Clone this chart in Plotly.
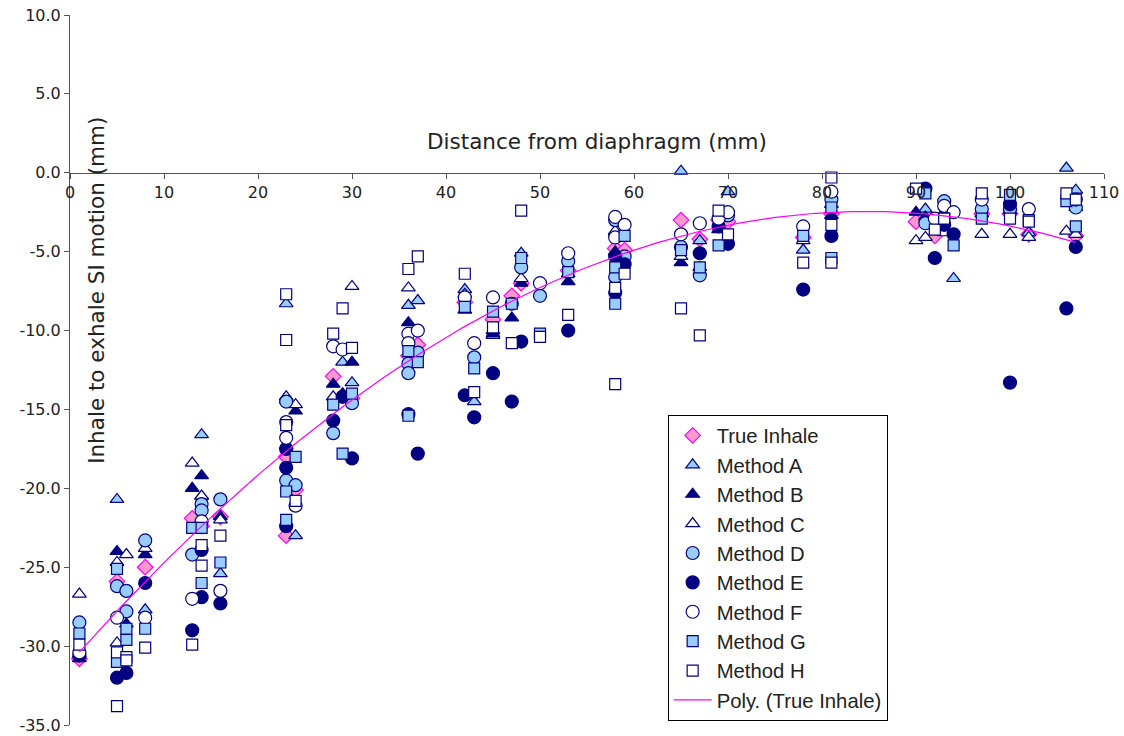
import numpy as np
import plotly.graph_objects as go

# ---- data ----
true_x = [1, 5, 8, 13, 14, 16, 23, 23, 24, 28, 30, 36, 37, 42, 45, 47, 48, 53, 58, 59, 65, 67, 69, 70, 78, 81, 90, 92, 97, 100, 102, 107]
true_y = [-30.8, -25.9, -25.0, -21.9, -22.4, -21.8, -18.0, -23.0, -20.1, -12.9, -14.3, -11.6, -10.9, -8.2, -9.3, -7.8, -7.0, -6.2, -4.8, -4.9, -3.0, -4.2, -3.0, -3.1, -4.1, -2.6, -3.1, -4.0, -2.6, -2.6, -3.9, -4.0]

a_x = [1, 5, 8, 14, 16, 23, 23, 24, 29, 30, 36, 37, 42, 43, 45, 48, 53, 58, 65, 67, 70, 78, 81, 91, 94, 97, 100, 102, 106, 107]
a_y = [-30.5, -20.7, -27.7, -16.6, -25.4, -8.3, -14.4, -23.0, -12.0, -13.3, -8.4, -8.1, -7.4, -14.5, -10.3, -5.1, -6.4, -3.8, 0.1, -4.3, -1.2, -4.9, -2.0, -2.3, -6.7, -2.6, -2.2, -3.8, 0.3, -1.1]

b_x = [1, 5, 6, 8, 13, 14, 14, 16, 23, 24, 28, 29, 30, 36, 42, 45, 47, 48, 53, 58, 65, 69, 81, 90, 91, 93, 100, 107]
b_y = [-30.8, -24.0, -28.6, -24.2, -20.0, -19.2, -20.5, -21.8, -17.3, -15.1, -13.4, -14.0, -12.0, -9.5, -8.7, -10.2, -9.2, -7.0, -6.9, -5.0, -5.7, -3.6, -2.7, -2.5, -2.8, -2.5, -2.4, -2.2]

c_x = [1, 5, 5, 6, 8, 13, 14, 16, 23, 24, 28, 30, 36, 42, 45, 48, 58, 65, 67, 78, 90, 91, 93, 97, 100, 102, 106, 107]
c_y = [-26.7, -24.7, -29.8, -24.2, -23.8, -18.4, -20.5, -22.0, -14.2, -14.7, -14.2, -7.2, -7.3, -7.7, -10.0, -6.7, -3.7, -5.3, -6.0, -4.3, -4.3, -4.1, -3.8, -3.9, -3.9, -4.1, -3.7, -3.9]

d_x = [1, 5, 6, 6, 8, 13, 14, 14, 16, 23, 23, 24, 28, 30, 36, 36, 37, 43, 47, 48, 50, 53, 58, 58, 59, 65, 67, 70, 81, 91, 93, 97, 100, 107]
d_y = [-28.5, -26.2, -26.5, -27.8, -23.3, -24.2, -21.0, -21.4, -20.7, -14.5, -19.5, -19.8, -16.5, -14.6, -12.1, -12.7, -11.4, -11.7, -8.3, -6.0, -7.8, -5.6, -3.0, -6.6, -5.3, -4.7, -6.5, -2.7, -1.7, -3.2, -1.8, -2.3, -2.3, -2.2]

e_x = [1, 5, 6, 8, 13, 14, 14, 16, 23, 23, 23, 28, 29, 30, 36, 37, 42, 43, 45, 47, 48, 53, 58, 58, 59, 67, 69, 70, 78, 81, 91, 92, 93, 94, 100, 100, 106, 107]
e_y = [-30.6, -32.0, -31.7, -26.0, -29.0, -23.9, -26.9, -27.3, -17.5, -18.7, -22.4, -15.7, -14.2, -18.1, -15.3, -17.8, -14.1, -15.5, -12.7, -14.5, -10.7, -10.0, -5.3, -7.6, -5.8, -5.1, -3.4, -4.5, -7.4, -4.0, -1.0, -5.4, -3.3, -3.9, -2.0, -13.3, -8.6, -4.7]

f_x = [1, 5, 8, 13, 14, 16, 23, 23, 24, 28, 29, 36, 36, 37, 42, 43, 45, 50, 53, 58, 58, 59, 65, 67, 69, 70, 78, 81, 92, 93, 94, 97, 102, 107]
f_y = [-30.4, -28.2, -28.2, -27.0, -22.1, -26.5, -15.8, -16.8, -21.1, -11.0, -11.2, -10.2, -10.8, -10.0, -7.9, -10.8, -7.9, -7.0, -5.1, -2.8, -4.1, -3.3, -3.9, -3.2, -2.9, -2.5, -3.4, -1.2, -2.9, -2.1, -2.5, -1.7, -2.3, -1.7]

g_x = [1, 5, 5, 6, 6, 8, 13, 14, 14, 16, 23, 23, 24, 28, 29, 30, 36, 36, 37, 42, 43, 45, 47, 48, 50, 53, 58, 58, 59, 65, 67, 69, 78, 81, 81, 91, 93, 94, 97, 100, 102, 106, 107]
g_y = [-29.2, -25.1, -31.0, -28.9, -29.6, -28.9, -22.5, -22.5, -26.0, -24.7, -20.2, -22.0, -18.0, -14.7, -17.8, -14.0, -11.3, -15.4, -12.0, -8.5, -12.4, -8.8, -8.3, -5.4, -10.2, -6.3, -6.0, -8.3, -4.0, -4.9, -6.0, -4.6, -4.0, -2.2, -5.4, -1.3, -2.9, -4.6, -2.9, -1.4, -3.0, -1.8, -3.4]

h_x = [1, 5, 5, 6, 6, 8, 13, 14, 14, 16, 23, 23, 23, 24, 28, 29, 30, 36, 37, 42, 43, 45, 47, 48, 50, 53, 58, 58, 59, 65, 67, 69, 70, 78, 81, 81, 81, 90, 92, 93, 97, 100, 102, 106, 107]
h_y = [-29.9, -30.4, -33.8, -30.7, -30.9, -30.1, -29.9, -23.6, -24.9, -23.0, -7.7, -10.6, -16.0, -20.8, -10.2, -8.6, -11.1, -6.1, -5.3, -6.4, -13.9, -9.8, -10.8, -2.4, -10.4, -9.0, -7.3, -13.4, -6.4, -8.6, -10.3, -2.4, -3.9, -5.7, -0.3, -3.3, -5.7, -1.0, -3.6, -2.9, -1.3, -2.9, -3.1, -1.3, -1.7]

x_ticks = [0, 10, 20, 30, 40, 50, 60, 70, 80, 90, 100, 110]
y_ticks = [10, 5, 0, -5, -10, -15, -20, -25, -30, -35]

NAVY = "#000080"
LIGHT = "#99CCFF"
WHITE = "#FFFFFF"

fig = go.Figure()

def add(name, xs, ys, symbol, fill, size, line_color=NAVY):
    fig.add_trace(go.Scatter(
        x=xs, y=ys, mode="markers", name=name,
        marker=dict(symbol=symbol, color=fill, size=size,
                    line=dict(color=line_color, width=1.2)),
    ))

add("True Inhale", true_x, true_y, "diamond", "#FF99CC", 12, "#FF00FF")
add("Method A", a_x, a_y, "triangle-up", LIGHT, 12)
add("Method B", b_x, b_y, "triangle-up", NAVY, 12)
add("Method C", c_x, c_y, "triangle-up", WHITE, 12)
add("Method D", d_x, d_y, "circle", LIGHT, 13)
add("Method E", e_x, e_y, "circle", NAVY, 13)
add("Method F", f_x, f_y, "circle", WHITE, 13)
add("Method G", g_x, g_y, "square", LIGHT, 11)
add("Method H", h_x, h_y, "square", WHITE, 11)

# polynomial (order 2) trendline of True Inhale
coef = np.polyfit(true_x, true_y, 2)
tx = np.linspace(min(true_x), max(true_x), 200)
fig.add_trace(go.Scatter(
    x=tx, y=np.polyval(coef, tx), mode="lines", name="Poly. (True Inhale)",
    line=dict(color="#FF00FF", width=1.2),
))

y_pos = (0 - (-35)) / 45.0

fig.update_layout(
    width=1124, height=736,
    margin=dict(l=70, r=20, t=15, b=11, autoexpand=False),
    paper_bgcolor="white", plot_bgcolor="white",
    font=dict(family="DejaVu Sans", size=16, color="#222222"),
    showlegend=True,
    legend=dict(
        x=0.578, y=0.437, xanchor="left", yanchor="top",
        bgcolor="white", bordercolor="#000000", borderwidth=1,
        font=dict(family="Liberation Sans", size=20.3, color="#222222"),
        traceorder="normal", itemwidth=38,
    ),
    xaxis=dict(
        range=[0, 110], tickvals=x_ticks, ticktext=[str(v) for v in x_ticks],
        showgrid=False, zeroline=False, showline=True, linecolor="#555555", linewidth=1,
        ticks="outside", ticklen=5, tickcolor="#555555",
        anchor="free", position=y_pos, automargin=False,
    ),
    yaxis=dict(
        range=[-35, 10], tickvals=y_ticks, ticktext=[f"{v:.1f}" for v in y_ticks],
        showgrid=False, zeroline=False, showline=True, linecolor="#555555", linewidth=1,
        ticks="outside", ticklen=5, tickcolor="#555555", automargin=False,
    ),
    annotations=[
        dict(text="Distance from diaphragm (mm)", xref="paper", yref="paper",
             x=0.5097, y=0.8225, showarrow=False, xanchor="center", yanchor="middle",
             font=dict(family="DejaVu Sans", size=21.5, color="#222222")),
        dict(text="Inhale to exhale SI motion (mm)", xref="paper", yref="paper",
             x=0.026, y=0.6127, showarrow=False, xanchor="center", yanchor="middle",
             textangle=-90, font=dict(family="DejaVu Sans", size=21.5, color="#222222")),
    ],
)

fig.write_html(
    "out.html",
    config={"displayModeBar": False},
    post_script="document.body.style.margin='0px'; document.body.style.overflow='hidden';",
)
